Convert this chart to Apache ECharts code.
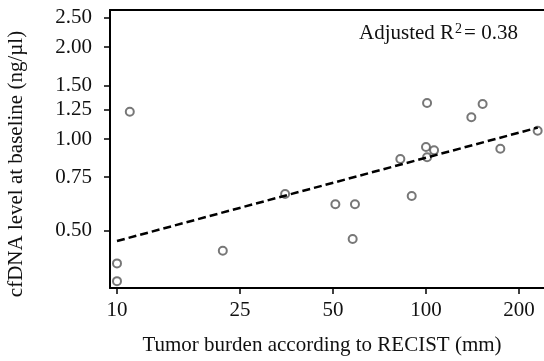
<!DOCTYPE html>
<html>
<head>
<meta charset="utf-8">
<script src="https://cdn.jsdelivr.net/npm/echarts@6/dist/echarts.min.js"></script>
<style>
  html, body { margin: 0; padding: 0; background: #fff; }
  #chart { width: 544px; height: 361px; }
</style>
</head>
<body>
<div id="chart"></div>
<script>
// tumor burden (mm) and cfDNA level (ng/µl) per patient
const tumorBurden = [11, 10, 10, 22, 35, 50.9, 58.9, 57.9, 89.9, 100.8, 152.5, 140.2, 229.8, 174, 82.6, 100, 106.2, 100.8];
const cfdnaLevel = [1.229, 0.391, 0.342, 0.43, 0.66, 0.611, 0.611, 0.47, 0.65, 1.312, 1.302, 1.178, 1.065, 0.929, 0.86, 0.941, 0.918, 0.871];

// fitted line ends
const fitX = [10, 230];
const fitY = [0.463, 1.09];

const xTicks = [10, 25, 50, 100, 200];
const yTicks = [0.5, 0.75, 1, 1.25, 1.5, 2, 2.5];

const lg = Math.log10;
const font = "Liberation Serif";
const axisColor = "#000";

const pickTick = (ticks, v) => ticks.find(t => Math.abs(lg(t) - v) < 1e-6);

const chart = echarts.init(document.getElementById("chart"));
chart.setOption({
  animation: false,
  grid: { left: 110, right: 0, top: 10, bottom: 73 },
  xAxis: [
    {
      type: "value",
      min: 0.97735,
      max: 2.3819,
      splitLine: { show: false },
      axisLine: { show: true, onZero: false, lineStyle: { color: axisColor, width: 2 } },
      axisTick: {
        show: true,
        length: 6,
        customValues: xTicks.map(lg),
        lineStyle: { color: axisColor, width: 1.5 },
      },
      axisLabel: {
        customValues: xTicks.map(lg),
        margin: 12,
        color: "#111",
        fontFamily: font,
        fontSize: 21,
        formatter: v => String(pickTick(xTicks, v)),
      },
    },
    {
      // top frame line only
      type: "value",
      position: "top",
      min: 0.97735,
      max: 2.3819,
      splitLine: { show: false },
      axisLine: { show: true, onZero: false, lineStyle: { color: axisColor, width: 2 } },
      axisTick: { show: false },
      axisLabel: { show: false },
    },
  ],
  yAxis: {
    type: "value",
    min: -0.4885,
    max: 0.423,
    splitLine: { show: false },
    axisLine: { show: true, onZero: false, lineStyle: { color: axisColor, width: 2 } },
    axisTick: {
      show: true,
      length: 6,
      customValues: yTicks.map(lg),
      lineStyle: { color: axisColor, width: 1.5 },
    },
    axisLabel: {
      customValues: yTicks.map(lg),
      margin: 18,
      color: "#111",
      fontFamily: font,
      fontSize: 21,
      formatter: v => pickTick(yTicks, v).toFixed(2),
    },
  },
  graphic: [
    {
      type: "text",
      x: 322,
      y: 345,
      style: {
        text: "Tumor burden according to RECIST (mm)",
        fontFamily: font,
        fontSize: 21,
        fill: "#111",
        align: "center",
        verticalAlign: "middle",
      },
    },
    {
      type: "text",
      x: 16,
      y: 164,
      rotation: Math.PI / 2,
      style: {
        text: "cfDNA level at baseline (ng/µl)",
        fontFamily: font,
        fontSize: 21,
        fill: "#111",
        align: "center",
        verticalAlign: "middle",
      },
    },
    {
      type: "text",
      x: 359,
      y: 33,
      style: {
        text: "{a|Adjusted R}{s|2}{a|= 0.38}",
        align: "left",
        verticalAlign: "middle",
        rich: {
          a: { fontFamily: font, fontSize: 21, fill: "#111", color: "#111" },
          s: { fontFamily: font, fontSize: 14, fill: "#111", color: "#111", verticalAlign: "top", padding: [0, 2, 8, 1] },
        },
      },
    },
  ],
  series: [
    {
      type: "scatter",
      symbol: "emptyCircle",
      symbolSize: 8,
      itemStyle: { color: "#555", borderWidth: 2 },
      data: tumorBurden.map((x, i) => [lg(x), lg(cfdnaLevel[i])]),
      z: 2,
    },
    {
      type: "line",
      symbol: "none",
      lineStyle: { color: "#000", width: 2.5, type: [8, 4] },
      data: fitX.map((x, i) => [lg(x), lg(fitY[i])]),
      z: 3,
    },
  ],
});
</script>
</body>
</html>
